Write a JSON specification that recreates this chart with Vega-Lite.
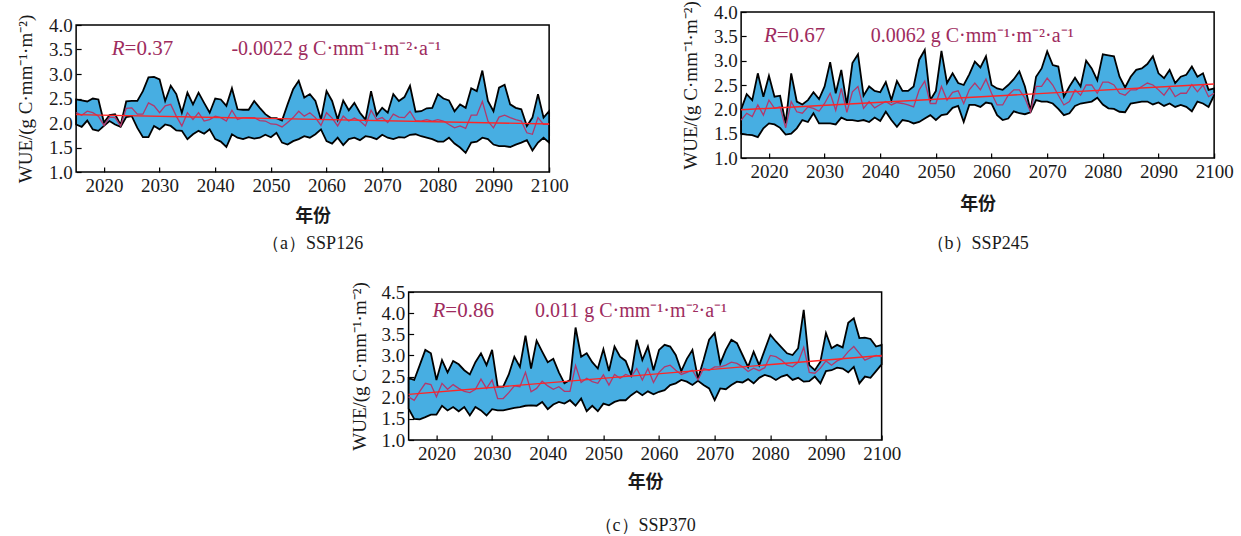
{
"$schema": "https://vega.github.io/schema/vega-lite/v6.json",
"background": "white",
"padding": {"left": 15, "top": 0, "right": 5, "bottom": 2},
"config": {
  "view": {"stroke": "black", "strokeWidth": 1.5},
  "axis": {"grid": false, "domain": false, "tickSize": -5, "tickColor": "black", "labelFont": "Liberation Serif", "labelFontSize": 19, "labelColor": "#1a1a1a", "labelOverlap": false, "labelFlush": false}
},
"datasets": {
  "t": [
    {"s":"a","x":2015,"v":2.17},{"s":"a","x":2100,"v":1.98},
    {"s":"b","x":2015,"v":1.99},{"s":"b","x":2100,"v":2.52},
    {"s":"c","x":2015,"v":2.08},{"s":"c","x":2100,"v":3.00}
  ],
  "d": [
{"s":"a","x":2015,"lo":1.97,"m":2.21,"hi":2.48},
{"s":"a","x":2016,"lo":1.92,"m":2.16,"hi":2.46},
{"s":"a","x":2017,"lo":2.05,"m":2.24,"hi":2.44},
{"s":"a","x":2018,"lo":1.87,"m":2.21,"hi":2.50},
{"s":"a","x":2019,"lo":1.84,"m":2.14,"hi":2.48},
{"s":"a","x":2020,"lo":1.94,"m":1.95,"hi":2.01},
{"s":"a","x":2021,"lo":2.04,"m":2.12,"hi":2.16},
{"s":"a","x":2022,"lo":1.97,"m":2.11,"hi":2.18},
{"s":"a","x":2023,"lo":1.92,"m":1.94,"hi":1.96},
{"s":"a","x":2024,"lo":2.12,"m":2.30,"hi":2.44},
{"s":"a","x":2025,"lo":2.14,"m":2.31,"hi":2.45},
{"s":"a","x":2026,"lo":1.90,"m":2.18,"hi":2.45},
{"s":"a","x":2027,"lo":1.71,"m":2.18,"hi":2.65},
{"s":"a","x":2028,"lo":1.71,"m":2.41,"hi":2.93},
{"s":"a","x":2029,"lo":1.94,"m":2.35,"hi":2.94},
{"s":"a","x":2030,"lo":1.87,"m":2.21,"hi":2.89},
{"s":"a","x":2031,"lo":1.97,"m":2.35,"hi":2.45},
{"s":"a","x":2032,"lo":1.94,"m":2.38,"hi":2.76},
{"s":"a","x":2033,"lo":1.85,"m":2.14,"hi":2.59},
{"s":"a","x":2034,"lo":1.84,"m":1.94,"hi":2.21},
{"s":"a","x":2035,"lo":1.67,"m":2.21,"hi":2.62},
{"s":"a","x":2036,"lo":1.77,"m":2.07,"hi":2.38},
{"s":"a","x":2037,"lo":1.84,"m":2.21,"hi":2.62},
{"s":"a","x":2038,"lo":1.78,"m":2.04,"hi":2.41},
{"s":"a","x":2039,"lo":1.87,"m":2.07,"hi":2.21},
{"s":"a","x":2040,"lo":1.67,"m":2.14,"hi":2.50},
{"s":"a","x":2041,"lo":1.62,"m":2.11,"hi":2.48},
{"s":"a","x":2042,"lo":1.51,"m":2.04,"hi":2.35},
{"s":"a","x":2043,"lo":1.77,"m":2.26,"hi":2.71},
{"s":"a","x":2044,"lo":1.70,"m":2.07,"hi":2.28},
{"s":"a","x":2045,"lo":1.67,"m":2.11,"hi":2.27},
{"s":"a","x":2046,"lo":1.71,"m":2.11,"hi":2.27},
{"s":"a","x":2047,"lo":1.68,"m":2.11,"hi":2.45},
{"s":"a","x":2048,"lo":1.70,"m":2.05,"hi":2.31},
{"s":"a","x":2049,"lo":1.76,"m":2.04,"hi":2.18},
{"s":"a","x":2050,"lo":1.71,"m":1.98,"hi":2.10},
{"s":"a","x":2051,"lo":1.80,"m":1.97,"hi":2.10},
{"s":"a","x":2052,"lo":1.60,"m":1.92,"hi":2.05},
{"s":"a","x":2053,"lo":1.56,"m":2.01,"hi":2.38},
{"s":"a","x":2054,"lo":1.63,"m":2.11,"hi":2.69},
{"s":"a","x":2055,"lo":1.67,"m":2.24,"hi":2.86},
{"s":"a","x":2056,"lo":1.73,"m":2.14,"hi":2.52},
{"s":"a","x":2057,"lo":1.70,"m":2.21,"hi":2.59},
{"s":"a","x":2058,"lo":1.77,"m":2.11,"hi":2.45},
{"s":"a","x":2059,"lo":1.87,"m":1.95,"hi":2.07},
{"s":"a","x":2060,"lo":1.63,"m":2.21,"hi":2.65},
{"s":"a","x":2061,"lo":1.58,"m":2.10,"hi":2.45},
{"s":"a","x":2062,"lo":1.70,"m":1.94,"hi":2.07},
{"s":"a","x":2063,"lo":1.55,"m":2.14,"hi":2.46},
{"s":"a","x":2064,"lo":1.67,"m":2.04,"hi":2.26},
{"s":"a","x":2065,"lo":1.70,"m":2.10,"hi":2.41},
{"s":"a","x":2066,"lo":1.65,"m":2.04,"hi":2.21},
{"s":"a","x":2067,"lo":1.73,"m":1.94,"hi":2.07},
{"s":"a","x":2068,"lo":1.71,"m":2.26,"hi":2.65},
{"s":"a","x":2069,"lo":1.67,"m":2.07,"hi":2.16},
{"s":"a","x":2070,"lo":1.76,"m":2.11,"hi":2.31},
{"s":"a","x":2071,"lo":1.70,"m":2.01,"hi":2.21},
{"s":"a","x":2072,"lo":1.67,"m":2.18,"hi":2.59},
{"s":"a","x":2073,"lo":1.71,"m":2.12,"hi":2.45},
{"s":"a","x":2074,"lo":1.70,"m":2.11,"hi":2.53},
{"s":"a","x":2075,"lo":1.76,"m":2.24,"hi":2.76},
{"s":"a","x":2076,"lo":1.77,"m":2.05,"hi":2.23},
{"s":"a","x":2077,"lo":1.73,"m":2.04,"hi":2.24},
{"s":"a","x":2078,"lo":1.70,"m":2.07,"hi":2.30},
{"s":"a","x":2079,"lo":1.67,"m":2.04,"hi":2.31},
{"s":"a","x":2080,"lo":1.62,"m":2.07,"hi":2.59},
{"s":"a","x":2081,"lo":1.62,"m":2.04,"hi":2.50},
{"s":"a","x":2082,"lo":1.70,"m":1.97,"hi":2.46},
{"s":"a","x":2083,"lo":1.58,"m":1.90,"hi":2.24},
{"s":"a","x":2084,"lo":1.50,"m":1.94,"hi":2.38},
{"s":"a","x":2085,"lo":1.39,"m":1.89,"hi":2.31},
{"s":"a","x":2086,"lo":1.60,"m":2.16,"hi":2.71},
{"s":"a","x":2087,"lo":1.62,"m":2.16,"hi":2.65},
{"s":"a","x":2088,"lo":1.70,"m":2.44,"hi":3.07},
{"s":"a","x":2089,"lo":1.67,"m":2.04,"hi":2.45},
{"s":"a","x":2090,"lo":1.56,"m":1.90,"hi":2.24},
{"s":"a","x":2091,"lo":1.53,"m":2.12,"hi":2.72},
{"s":"a","x":2092,"lo":1.53,"m":2.16,"hi":2.78},
{"s":"a","x":2093,"lo":1.51,"m":2.11,"hi":2.38},
{"s":"a","x":2094,"lo":1.56,"m":2.07,"hi":2.31},
{"s":"a","x":2095,"lo":1.60,"m":2.04,"hi":2.28},
{"s":"a","x":2096,"lo":1.65,"m":1.80,"hi":1.94},
{"s":"a","x":2097,"lo":1.44,"m":1.77,"hi":2.11},
{"s":"a","x":2098,"lo":1.60,"m":2.11,"hi":2.59},
{"s":"a","x":2099,"lo":1.70,"m":1.97,"hi":2.11},
{"s":"a","x":2100,"lo":1.60,"m":1.97,"hi":2.24},
{"s":"b","x":2015,"lo":1.50,"m":1.78,"hi":2.00},
{"s":"b","x":2016,"lo":1.48,"m":1.92,"hi":2.31},
{"s":"b","x":2017,"lo":1.47,"m":1.85,"hi":2.19},
{"s":"b","x":2018,"lo":1.43,"m":2.09,"hi":2.74},
{"s":"b","x":2019,"lo":1.61,"m":1.88,"hi":2.26},
{"s":"b","x":2020,"lo":1.71,"m":2.19,"hi":2.69},
{"s":"b","x":2021,"lo":1.69,"m":2.02,"hi":2.26},
{"s":"b","x":2022,"lo":1.62,"m":2.05,"hi":2.28},
{"s":"b","x":2023,"lo":1.48,"m":1.62,"hi":1.71},
{"s":"b","x":2024,"lo":1.50,"m":2.16,"hi":2.74},
{"s":"b","x":2025,"lo":1.61,"m":1.95,"hi":2.16},
{"s":"b","x":2026,"lo":1.78,"m":1.92,"hi":2.10},
{"s":"b","x":2027,"lo":1.74,"m":2.05,"hi":2.19},
{"s":"b","x":2028,"lo":1.92,"m":2.02,"hi":2.35},
{"s":"b","x":2029,"lo":1.71,"m":1.96,"hi":2.21},
{"s":"b","x":2030,"lo":1.71,"m":2.12,"hi":2.47},
{"s":"b","x":2031,"lo":1.71,"m":2.33,"hi":2.97},
{"s":"b","x":2032,"lo":1.69,"m":1.98,"hi":2.33},
{"s":"b","x":2033,"lo":1.83,"m":2.43,"hi":2.81},
{"s":"b","x":2034,"lo":1.78,"m":1.94,"hi":2.09},
{"s":"b","x":2035,"lo":1.78,"m":2.36,"hi":2.95},
{"s":"b","x":2036,"lo":1.76,"m":2.47,"hi":3.13},
{"s":"b","x":2037,"lo":1.78,"m":2.02,"hi":2.28},
{"s":"b","x":2038,"lo":1.74,"m":2.16,"hi":2.47},
{"s":"b","x":2039,"lo":1.83,"m":2.03,"hi":2.38},
{"s":"b","x":2040,"lo":1.76,"m":2.10,"hi":2.35},
{"s":"b","x":2041,"lo":1.95,"m":2.16,"hi":2.56},
{"s":"b","x":2042,"lo":1.78,"m":2.09,"hi":2.19},
{"s":"b","x":2043,"lo":1.64,"m":2.14,"hi":2.58},
{"s":"b","x":2044,"lo":1.78,"m":2.12,"hi":2.38},
{"s":"b","x":2045,"lo":1.76,"m":2.09,"hi":2.38},
{"s":"b","x":2046,"lo":1.71,"m":2.05,"hi":2.47},
{"s":"b","x":2047,"lo":1.74,"m":2.40,"hi":3.02},
{"s":"b","x":2048,"lo":1.81,"m":2.58,"hi":3.22},
{"s":"b","x":2049,"lo":1.88,"m":2.12,"hi":2.19},
{"s":"b","x":2050,"lo":1.78,"m":2.12,"hi":2.38},
{"s":"b","x":2051,"lo":1.88,"m":2.47,"hi":3.20},
{"s":"b","x":2052,"lo":1.90,"m":2.19,"hi":2.54},
{"s":"b","x":2053,"lo":2.03,"m":2.35,"hi":2.74},
{"s":"b","x":2054,"lo":2.07,"m":2.38,"hi":2.54},
{"s":"b","x":2055,"lo":1.74,"m":2.12,"hi":2.50},
{"s":"b","x":2056,"lo":2.09,"m":2.40,"hi":2.72},
{"s":"b","x":2057,"lo":2.09,"m":2.54,"hi":2.98},
{"s":"b","x":2058,"lo":2.05,"m":2.40,"hi":2.86},
{"s":"b","x":2059,"lo":2.14,"m":2.62,"hi":3.09},
{"s":"b","x":2060,"lo":2.12,"m":2.33,"hi":2.50},
{"s":"b","x":2061,"lo":1.88,"m":2.09,"hi":2.43},
{"s":"b","x":2062,"lo":1.78,"m":2.09,"hi":2.40},
{"s":"b","x":2063,"lo":1.81,"m":2.29,"hi":2.50},
{"s":"b","x":2064,"lo":1.96,"m":2.40,"hi":2.62},
{"s":"b","x":2065,"lo":1.92,"m":2.40,"hi":2.78},
{"s":"b","x":2066,"lo":1.90,"m":2.23,"hi":2.47},
{"s":"b","x":2067,"lo":1.94,"m":1.95,"hi":1.97},
{"s":"b","x":2068,"lo":2.19,"m":2.47,"hi":2.67},
{"s":"b","x":2069,"lo":2.16,"m":2.47,"hi":2.84},
{"s":"b","x":2070,"lo":2.16,"m":2.64,"hi":3.19},
{"s":"b","x":2071,"lo":2.12,"m":2.50,"hi":2.91},
{"s":"b","x":2072,"lo":2.01,"m":2.29,"hi":2.88},
{"s":"b","x":2073,"lo":1.88,"m":2.09,"hi":2.26},
{"s":"b","x":2074,"lo":1.92,"m":2.16,"hi":2.47},
{"s":"b","x":2075,"lo":2.07,"m":2.40,"hi":2.65},
{"s":"b","x":2076,"lo":2.12,"m":2.29,"hi":2.47},
{"s":"b","x":2077,"lo":2.14,"m":2.50,"hi":3.00},
{"s":"b","x":2078,"lo":2.16,"m":2.50,"hi":2.84},
{"s":"b","x":2079,"lo":2.24,"m":2.33,"hi":2.60},
{"s":"b","x":2080,"lo":2.10,"m":2.56,"hi":3.13},
{"s":"b","x":2081,"lo":2.02,"m":2.56,"hi":3.11},
{"s":"b","x":2082,"lo":2.01,"m":2.50,"hi":3.09},
{"s":"b","x":2083,"lo":1.95,"m":2.33,"hi":2.67},
{"s":"b","x":2084,"lo":1.94,"m":2.29,"hi":2.45},
{"s":"b","x":2085,"lo":2.12,"m":2.40,"hi":2.67},
{"s":"b","x":2086,"lo":2.14,"m":2.40,"hi":2.81},
{"s":"b","x":2087,"lo":2.16,"m":2.47,"hi":2.84},
{"s":"b","x":2088,"lo":2.16,"m":2.54,"hi":2.93},
{"s":"b","x":2089,"lo":2.10,"m":2.50,"hi":3.09},
{"s":"b","x":2090,"lo":2.14,"m":2.40,"hi":2.74},
{"s":"b","x":2091,"lo":2.07,"m":2.29,"hi":2.64},
{"s":"b","x":2092,"lo":2.12,"m":2.45,"hi":2.81},
{"s":"b","x":2093,"lo":2.05,"m":2.26,"hi":2.54},
{"s":"b","x":2094,"lo":2.09,"m":2.33,"hi":2.67},
{"s":"b","x":2095,"lo":2.05,"m":2.33,"hi":2.71},
{"s":"b","x":2096,"lo":1.96,"m":2.51,"hi":2.88},
{"s":"b","x":2097,"lo":2.16,"m":2.36,"hi":2.67},
{"s":"b","x":2098,"lo":2.12,"m":2.50,"hi":2.74},
{"s":"b","x":2099,"lo":2.05,"m":2.26,"hi":2.40},
{"s":"b","x":2100,"lo":2.29,"m":2.33,"hi":2.43},
{"s":"c","x":2015,"lo":1.74,"m":2.02,"hi":2.46},
{"s":"c","x":2016,"lo":1.50,"m":1.94,"hi":2.42},
{"s":"c","x":2017,"lo":1.49,"m":2.15,"hi":2.77},
{"s":"c","x":2018,"lo":1.54,"m":2.34,"hi":3.13},
{"s":"c","x":2019,"lo":1.60,"m":2.31,"hi":3.05},
{"s":"c","x":2020,"lo":1.60,"m":2.02,"hi":2.42},
{"s":"c","x":2021,"lo":1.81,"m":2.34,"hi":2.89},
{"s":"c","x":2022,"lo":1.70,"m":2.20,"hi":2.60},
{"s":"c","x":2023,"lo":1.78,"m":2.31,"hi":2.87},
{"s":"c","x":2024,"lo":1.68,"m":2.22,"hi":2.79},
{"s":"c","x":2025,"lo":1.78,"m":2.15,"hi":2.65},
{"s":"c","x":2026,"lo":1.58,"m":2.12,"hi":2.55},
{"s":"c","x":2027,"lo":1.78,"m":2.20,"hi":2.84},
{"s":"c","x":2028,"lo":1.70,"m":2.44,"hi":3.05},
{"s":"c","x":2029,"lo":1.58,"m":2.22,"hi":2.77},
{"s":"c","x":2030,"lo":1.73,"m":2.42,"hi":3.13},
{"s":"c","x":2031,"lo":1.70,"m":1.98,"hi":2.26},
{"s":"c","x":2032,"lo":1.70,"m":1.98,"hi":2.26},
{"s":"c","x":2033,"lo":1.73,"m":2.12,"hi":2.55},
{"s":"c","x":2034,"lo":1.76,"m":2.28,"hi":2.97},
{"s":"c","x":2035,"lo":1.78,"m":2.26,"hi":2.73},
{"s":"c","x":2036,"lo":1.81,"m":2.60,"hi":3.47},
{"s":"c","x":2037,"lo":1.82,"m":2.14,"hi":2.69},
{"s":"c","x":2038,"lo":1.81,"m":2.22,"hi":3.35},
{"s":"c","x":2039,"lo":1.90,"m":2.39,"hi":3.09},
{"s":"c","x":2040,"lo":1.73,"m":2.28,"hi":2.84},
{"s":"c","x":2041,"lo":1.84,"m":2.20,"hi":2.92},
{"s":"c","x":2042,"lo":1.90,"m":2.26,"hi":2.60},
{"s":"c","x":2043,"lo":1.86,"m":2.15,"hi":2.34},
{"s":"c","x":2044,"lo":1.94,"m":2.15,"hi":2.42},
{"s":"c","x":2045,"lo":1.81,"m":2.76,"hi":3.66},
{"s":"c","x":2046,"lo":1.98,"m":2.36,"hi":2.97},
{"s":"c","x":2047,"lo":1.68,"m":2.46,"hi":3.05},
{"s":"c","x":2048,"lo":1.81,"m":2.38,"hi":2.84},
{"s":"c","x":2049,"lo":1.68,"m":2.34,"hi":2.69},
{"s":"c","x":2050,"lo":1.86,"m":2.54,"hi":3.15},
{"s":"c","x":2051,"lo":1.82,"m":2.30,"hi":2.63},
{"s":"c","x":2052,"lo":1.90,"m":2.55,"hi":3.21},
{"s":"c","x":2053,"lo":1.94,"m":2.46,"hi":2.97},
{"s":"c","x":2054,"lo":1.94,"m":2.55,"hi":2.87},
{"s":"c","x":2055,"lo":2.06,"m":2.50,"hi":2.54},
{"s":"c","x":2056,"lo":2.15,"m":2.69,"hi":3.37},
{"s":"c","x":2057,"lo":2.06,"m":2.42,"hi":2.89},
{"s":"c","x":2058,"lo":2.15,"m":2.69,"hi":3.21},
{"s":"c","x":2059,"lo":2.08,"m":2.36,"hi":2.65},
{"s":"c","x":2060,"lo":2.14,"m":2.60,"hi":3.13},
{"s":"c","x":2061,"lo":2.18,"m":2.73,"hi":3.25},
{"s":"c","x":2062,"lo":2.30,"m":2.77,"hi":3.21},
{"s":"c","x":2063,"lo":2.34,"m":2.65,"hi":3.01},
{"s":"c","x":2064,"lo":2.42,"m":2.55,"hi":2.63},
{"s":"c","x":2065,"lo":2.38,"m":2.60,"hi":2.92},
{"s":"c","x":2066,"lo":2.30,"m":2.65,"hi":3.13},
{"s":"c","x":2067,"lo":2.40,"m":2.42,"hi":2.45},
{"s":"c","x":2068,"lo":2.30,"m":2.69,"hi":2.89},
{"s":"c","x":2069,"lo":2.22,"m":2.65,"hi":3.37},
{"s":"c","x":2070,"lo":1.94,"m":2.73,"hi":3.53},
{"s":"c","x":2071,"lo":2.22,"m":2.73,"hi":2.81},
{"s":"c","x":2072,"lo":2.20,"m":2.77,"hi":3.13},
{"s":"c","x":2073,"lo":2.30,"m":2.84,"hi":3.37},
{"s":"c","x":2074,"lo":2.38,"m":2.81,"hi":3.29},
{"s":"c","x":2075,"lo":2.36,"m":2.73,"hi":3.01},
{"s":"c","x":2076,"lo":2.44,"m":2.62,"hi":2.73},
{"s":"c","x":2077,"lo":2.34,"m":2.70,"hi":3.09},
{"s":"c","x":2078,"lo":2.47,"m":2.64,"hi":2.77},
{"s":"c","x":2079,"lo":2.54,"m":2.71,"hi":3.13},
{"s":"c","x":2080,"lo":2.50,"m":3.00,"hi":3.49},
{"s":"c","x":2081,"lo":2.42,"m":2.97,"hi":3.33},
{"s":"c","x":2082,"lo":2.50,"m":2.89,"hi":3.19},
{"s":"c","x":2083,"lo":2.54,"m":2.77,"hi":3.05},
{"s":"c","x":2084,"lo":2.42,"m":2.73,"hi":3.01},
{"s":"c","x":2085,"lo":2.47,"m":2.84,"hi":3.17},
{"s":"c","x":2086,"lo":2.38,"m":3.19,"hi":4.08},
{"s":"c","x":2087,"lo":2.39,"m":2.60,"hi":2.77},
{"s":"c","x":2088,"lo":2.50,"m":2.58,"hi":2.65},
{"s":"c","x":2089,"lo":2.34,"m":2.70,"hi":2.85},
{"s":"c","x":2090,"lo":2.63,"m":2.87,"hi":3.53},
{"s":"c","x":2091,"lo":2.65,"m":2.77,"hi":3.17},
{"s":"c","x":2092,"lo":2.71,"m":2.87,"hi":3.25},
{"s":"c","x":2093,"lo":2.69,"m":2.93,"hi":3.19},
{"s":"c","x":2094,"lo":2.60,"m":3.09,"hi":3.77},
{"s":"c","x":2095,"lo":2.73,"m":3.21,"hi":3.88},
{"s":"c","x":2096,"lo":2.34,"m":3.05,"hi":3.41},
{"s":"c","x":2097,"lo":2.50,"m":2.89,"hi":3.42},
{"s":"c","x":2098,"lo":2.47,"m":2.95,"hi":3.39},
{"s":"c","x":2099,"lo":2.63,"m":3.00,"hi":3.21},
{"s":"c","x":2100,"lo":2.79,"m":2.97,"hi":3.25}
  ]
},
"vconcat": [
  {
    "hconcat": [
      {
        "vconcat": [
          {"width": 10, "height": 1, "data": {"values": []}, "mark": {"type": "point", "opacity": 0}, "encoding": {}, "view": {"stroke": null}},
          {
            "width": 473, "height": 147,
            "title": {"text": "（a）SSP126", "orient": "bottom", "frame": "group", "anchor": "middle", "font": "Liberation Serif", "fontSize": 18, "fontWeight": "normal", "color": "#1a1a1a", "offset": 10},
            "resolve": {"axis": {"x": "independent", "y": "independent"}},
            "layer": [
              {"data": {"name": "d"}, "transform": [{"filter": "datum.s === 'a'"}],
               "mark": {"type": "area", "fill": "#47aee2", "fillOpacity": 1, "stroke": "black", "strokeWidth": 1.8, "strokeJoin": "miter"},
               "encoding": {
                 "x": {"field": "x", "type": "quantitative", "scale": {"domain": [2015, 2100], "nice": false},
                   "axis": {"values": [2020,2030,2040,2050,2060,2070,2080,2090,2100], "format": "d", "title": "年份", "grid": false, "domain": false,
                     "ticks": true, "tickSize": -5, "tickColor": "black", "tickWidth": 1.2, "labelPadding": 9, "labelFont": "Liberation Serif", "labelFontSize": 19, "labelColor": "#1a1a1a",
                     "labelFlush": false, "labelOverlap": false, "titleFont": "Noto Sans CJK SC", "titleFontSize": 18, "titleFontWeight": 600, "titleColor": "#1a1a1a", "titlePadding": 12}},
                 "y": {"field": "lo", "type": "quantitative", "scale": {"domain": [1, 4], "nice": false, "zero": false},
                   "axis": {"values": [1,1.5,2,2.5,3,3.5,4], "format": ".1f", "title": "WUE/(g C·mm⁻¹·m⁻²)", "grid": false, "domain": false,
                     "ticks": true, "tickSize": -5, "tickColor": "black", "tickWidth": 1.2, "labelPadding": 9, "labelFont": "Liberation Serif", "labelFontSize": 19, "labelColor": "#1a1a1a",
                     "labelOverlap": false, "labelFlush": false, "titleFont": "Liberation Serif", "titleFontSize": 19, "titleFontWeight": "normal", "titleColor": "#1a1a1a", "titlePadding": 13}},
                 "y2": {"field": "hi"}}},
              {"data": {"name": "d"}, "transform": [{"filter": "datum.s === 'a'"}],
               "mark": {"type": "line", "color": "#b2386c", "strokeWidth": 1.3},
               "encoding": {"x": {"field": "x", "type": "quantitative", "axis": null}, "y": {"field": "m", "type": "quantitative", "axis": null}}},
              {"data": {"name": "t"}, "transform": [{"filter": "datum.s === 'a'"}],
               "mark": {"type": "line", "color": "#ff2525", "strokeWidth": 1.4},
               "encoding": {"x": {"field": "x", "type": "quantitative", "axis": null}, "y": {"field": "v", "type": "quantitative", "axis": null}}},
              {"data": {"values": [{}]}, "mark": {"type": "text", "text": "R", "font": "Liberation Serif", "fontStyle": "italic", "fontSize": 21, "color": "#9e2c5e", "align": "right", "baseline": "middle"},
               "encoding": {"x": {"datum": 2023.7, "type": "quantitative", "axis": null}, "y": {"datum": 3.52, "type": "quantitative", "axis": null}}},
              {"data": {"values": [{}]}, "mark": {"type": "text", "text": "=0.37", "font": "Liberation Serif", "fontSize": 21, "color": "#9e2c5e", "align": "left", "baseline": "middle"},
               "encoding": {"x": {"datum": 2023.7, "type": "quantitative", "axis": null}, "y": {"datum": 3.52, "type": "quantitative", "axis": null}}},
              {"data": {"values": [{}]}, "mark": {"type": "text", "text": "-0.0022 g C·mm⁻¹·m⁻²·a⁻¹", "font": "Liberation Serif", "fontSize": 20, "color": "#9e2c5e", "align": "left", "baseline": "middle"},
               "encoding": {"x": {"datum": 2042.9, "type": "quantitative", "axis": null}, "y": {"datum": 3.52, "type": "quantitative", "axis": null}}}
            ]
          }
        ],
        "spacing": 0
      },
      {
        "width": 473, "height": 146,
        "title": {"text": "（b）SSP245", "orient": "bottom", "frame": "group", "anchor": "middle", "font": "Liberation Serif", "fontSize": 18, "fontWeight": "normal", "color": "#1a1a1a", "offset": 22},
        "resolve": {"axis": {"x": "independent", "y": "independent"}},
        "layer": [
          {"data": {"name": "d"}, "transform": [{"filter": "datum.s === 'b'"}],
           "mark": {"type": "area", "fill": "#47aee2", "fillOpacity": 1, "stroke": "black", "strokeWidth": 1.8, "strokeJoin": "miter"},
           "encoding": {
             "x": {"field": "x", "type": "quantitative", "scale": {"domain": [2015, 2100], "nice": false},
               "axis": {"values": [2020,2030,2040,2050,2060,2070,2080,2090,2100], "format": "d", "title": "年份", "grid": false, "domain": false,
                 "ticks": true, "tickSize": -5, "tickColor": "black", "tickWidth": 1.2, "labelPadding": 9, "labelFont": "Liberation Serif", "labelFontSize": 19, "labelColor": "#1a1a1a",
                 "labelFlush": false, "labelOverlap": false, "titleFont": "Noto Sans CJK SC", "titleFontSize": 18, "titleFontWeight": 600, "titleColor": "#1a1a1a", "titlePadding": 14}},
             "y": {"field": "lo", "type": "quantitative", "scale": {"domain": [1, 4], "nice": false, "zero": false},
               "axis": {"values": [1,1.5,2,2.5,3,3.5,4], "format": ".1f", "title": "WUE/(g C·mm⁻¹·m⁻²)", "grid": false, "domain": false,
                 "ticks": true, "tickSize": -5, "tickColor": "black", "tickWidth": 1.2, "labelPadding": 9, "labelFont": "Liberation Serif", "labelFontSize": 19, "labelColor": "#1a1a1a",
                 "labelOverlap": false, "labelFlush": false, "titleFont": "Liberation Serif", "titleFontSize": 19, "titleFontWeight": "normal", "titleColor": "#1a1a1a", "titlePadding": 13}},
             "y2": {"field": "hi"}}},
          {"data": {"name": "d"}, "transform": [{"filter": "datum.s === 'b'"}],
           "mark": {"type": "line", "color": "#b2386c", "strokeWidth": 1.3},
           "encoding": {"x": {"field": "x", "type": "quantitative", "axis": null}, "y": {"field": "m", "type": "quantitative", "axis": null}}},
          {"data": {"name": "t"}, "transform": [{"filter": "datum.s === 'b'"}],
           "mark": {"type": "line", "color": "#ff2525", "strokeWidth": 1.4},
           "encoding": {"x": {"field": "x", "type": "quantitative", "axis": null}, "y": {"field": "v", "type": "quantitative", "axis": null}}},
          {"data": {"values": [{}]}, "mark": {"type": "text", "text": "R", "font": "Liberation Serif", "fontStyle": "italic", "fontSize": 21, "color": "#9e2c5e", "align": "right", "baseline": "middle"},
           "encoding": {"x": {"datum": 2021.4, "type": "quantitative", "axis": null}, "y": {"datum": 3.5, "type": "quantitative", "axis": null}}},
          {"data": {"values": [{}]}, "mark": {"type": "text", "text": "=0.67", "font": "Liberation Serif", "fontSize": 21, "color": "#9e2c5e", "align": "left", "baseline": "middle"},
           "encoding": {"x": {"datum": 2021.4, "type": "quantitative", "axis": null}, "y": {"datum": 3.5, "type": "quantitative", "axis": null}}},
          {"data": {"values": [{}]}, "mark": {"type": "text", "text": "0.0062 g C·mm⁻¹·m⁻²·a⁻¹", "font": "Liberation Serif", "fontSize": 20, "color": "#9e2c5e", "align": "left", "baseline": "middle"},
           "encoding": {"x": {"datum": 2038.3, "type": "quantitative", "axis": null}, "y": {"datum": 3.5, "type": "quantitative", "axis": null}}}
        ]
      }
    ],
    "spacing": 111
  },
  {
    "width": 473, "height": 148,
    "title": {"text": "（c）SSP370", "orient": "bottom", "frame": "group", "anchor": "middle", "font": "Liberation Serif", "fontSize": 18, "fontWeight": "normal", "color": "#1a1a1a", "offset": 26},
    "resolve": {"axis": {"x": "independent", "y": "independent"}},
    "layer": [
      {"data": {"name": "d"}, "transform": [{"filter": "datum.s === 'c'"}],
       "mark": {"type": "area", "fill": "#47aee2", "fillOpacity": 1, "stroke": "black", "strokeWidth": 1.8, "strokeJoin": "miter"},
       "encoding": {
         "x": {"field": "x", "type": "quantitative", "scale": {"domain": [2015, 2100], "nice": false},
           "axis": {"values": [2020,2030,2040,2050,2060,2070,2080,2090,2100], "format": "d", "title": "年份", "grid": false, "domain": false,
             "ticks": true, "tickSize": -5, "tickColor": "black", "tickWidth": 1.2, "labelPadding": 9, "labelFont": "Liberation Serif", "labelFontSize": 19, "labelColor": "#1a1a1a",
             "labelFlush": false, "labelOverlap": false, "titleFont": "Noto Sans CJK SC", "titleFontSize": 18, "titleFontWeight": 600, "titleColor": "#1a1a1a", "titlePadding": 10}},
         "y": {"field": "lo", "type": "quantitative", "scale": {"domain": [1, 4.5], "nice": false, "zero": false},
           "axis": {"values": [1,1.5,2,2.5,3,3.5,4,4.5], "format": ".1f", "title": "WUE/(g C·mm⁻¹·m⁻²)", "grid": false, "domain": false,
             "ticks": true, "tickSize": -5, "tickColor": "black", "tickWidth": 1.2, "labelPadding": 9, "labelFont": "Liberation Serif", "labelFontSize": 19, "labelColor": "#1a1a1a",
             "labelOverlap": false, "labelFlush": false, "titleFont": "Liberation Serif", "titleFontSize": 19, "titleFontWeight": "normal", "titleColor": "#1a1a1a", "titlePadding": 11}},
         "y2": {"field": "hi"}}},
      {"data": {"name": "d"}, "transform": [{"filter": "datum.s === 'c'"}],
       "mark": {"type": "line", "color": "#b2386c", "strokeWidth": 1.3},
       "encoding": {"x": {"field": "x", "type": "quantitative", "axis": null}, "y": {"field": "m", "type": "quantitative", "axis": null}}},
      {"data": {"name": "t"}, "transform": [{"filter": "datum.s === 'c'"}],
       "mark": {"type": "line", "color": "#ff2525", "strokeWidth": 1.4},
       "encoding": {"x": {"field": "x", "type": "quantitative", "axis": null}, "y": {"field": "v", "type": "quantitative", "axis": null}}},
      {"data": {"values": [{}]}, "mark": {"type": "text", "text": "R", "font": "Liberation Serif", "fontStyle": "italic", "fontSize": 21, "color": "#9e2c5e", "align": "right", "baseline": "middle"},
       "encoding": {"x": {"datum": 2021.6, "type": "quantitative", "axis": null}, "y": {"datum": 4.04, "type": "quantitative", "axis": null}}},
      {"data": {"values": [{}]}, "mark": {"type": "text", "text": "=0.86", "font": "Liberation Serif", "fontSize": 21, "color": "#9e2c5e", "align": "left", "baseline": "middle"},
       "encoding": {"x": {"datum": 2021.6, "type": "quantitative", "axis": null}, "y": {"datum": 4.04, "type": "quantitative", "axis": null}}},
      {"data": {"values": [{}]}, "mark": {"type": "text", "text": "0.011 g C·mm⁻¹·m⁻²·a⁻¹", "font": "Liberation Serif", "fontSize": 20, "color": "#9e2c5e", "align": "left", "baseline": "middle"},
       "encoding": {"x": {"datum": 2037.7, "type": "quantitative", "axis": null}, "y": {"datum": 4.04, "type": "quantitative", "axis": null}}}
    ]
  }
],
"spacing": 27,
"center": true
}
